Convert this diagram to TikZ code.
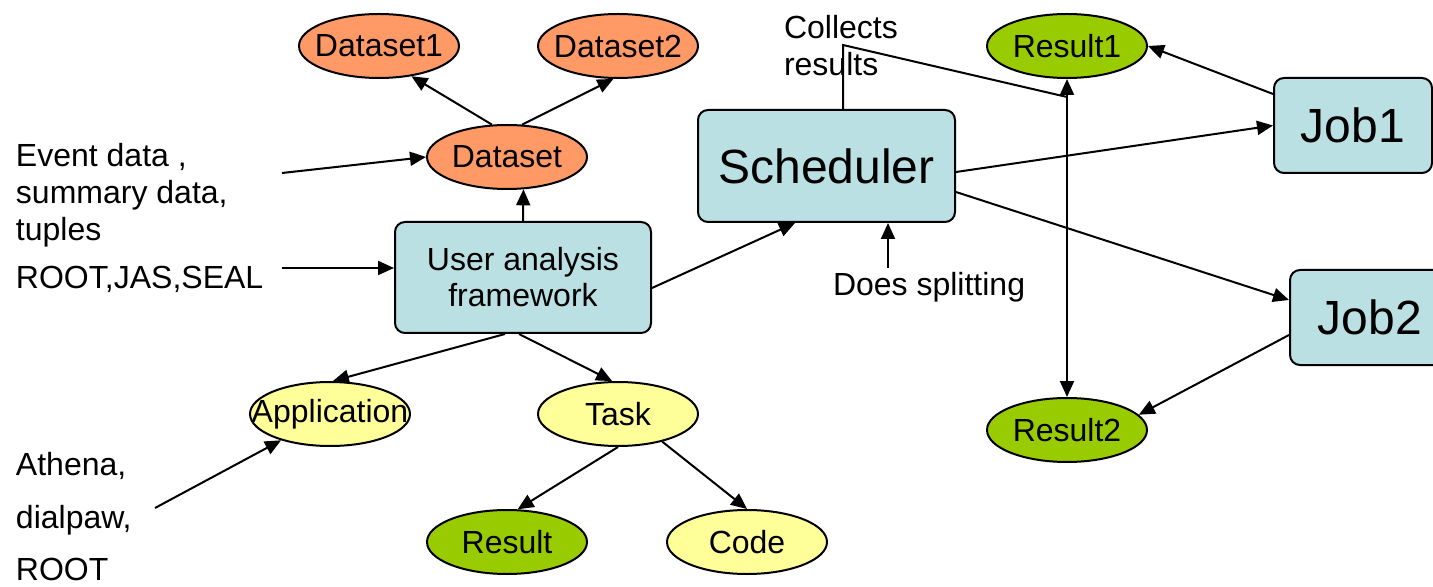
\documentclass[tikz,border=0pt]{standalone}
\usepackage{fontspec}
\setmainfont{Liberation Sans}
\usepackage{xcolor}
\usetikzlibrary{positioning}
\usetikzlibrary{shapes,arrows,calc,arrows.meta}
\definecolor{boxblue}{RGB}{187,224,227}
\definecolor{dataorange}{RGB}{255,153,102}
\definecolor{resgreen}{RGB}{153,204,0}
\definecolor{partyellow}{RGB}{255,255,153}

\begin{document}
\begin{tikzpicture}[x=0.5pt, y=-0.5pt, line width=1pt,
    >={Triangle[length=8pt, width=7pt]},
    blob/.style={draw, ellipse, inner xsep=-20pt, inner ysep=-4pt,
      minimum width=80pt, minimum height=32pt, font=\fontsize{16}{18}\selectfont},
    block/.style={draw, rectangle, rounded corners=5pt, fill=boxblue, align=center},
    txt/.style={anchor=base west, inner sep=0pt, font=\fontsize{16}{18}\selectfont}]
    \useasboundingbox (0,0) rectangle (1433,587);
    % Nodes
    \node [blob, fill=dataorange] (ds1) at (379,46) {Dataset1};
    \node [blob, fill=dataorange] (ds2) at (618,46) {Dataset2};
    \node [blob, fill=dataorange] (ds) at (507,157) {Dataset};
    \node [block, minimum width=128pt, minimum height=55.5pt,
      font=\fontsize{16}{18}\selectfont] (uaf) at (523,277.5) {User analysis\\framework};
    \node [block, minimum width=128.5pt, minimum height=56pt,
      font=\fontsize{24}{28}\selectfont] (sched) at (826.5,166) {Scheduler};
    \node [block, minimum width=79pt, minimum height=47.5pt,
      font=\fontsize{24}{28}\selectfont] (job1) at (1353,125.5) {Job1};
    \node [block, minimum width=80pt, minimum height=47.5pt,
      font=\fontsize{24}{28}\selectfont] (job2) at (1370,317.5) {Job2};
    \node [blob, fill=resgreen] (res1) at (1067,46) {Result1};
    \node [blob, fill=resgreen] (res2) at (1067,430) {Result2};
    \node [blob, fill=partyellow] (app) at (330,414) {Application};
    \node [blob, fill=partyellow] (task) at (618,414) {Task};
    \node [blob, fill=resgreen] (res) at (507,542) {Result};
    \node [blob, fill=partyellow] (code) at (747,542) {Code};
    % Labels
    \node [txt] (evt1) at (15,167) {Event data ,};
    \node [txt] (evt2) at (15,204) {summary data,};
    \node [txt] (evt3) at (15,241) {tuples};
    \node [txt] (tools) at (15,289) {ROOT,JAS,SEAL};
    \node [txt] (ath1) at (15,475) {Athena,};
    \node [txt] (ath2) at (15,528) {dialpaw,};
    \node [txt] (ath3) at (15,580) {ROOT};
    \node [txt] (coll1) at (783,39) {Collects};
    \node [txt] (coll2) at (783,76) {results};
    \node [txt] (split) at (832,296) {Does splitting};
    \coordinate (evtend) at (282,173);
    \coordinate (toolsend) at (282,268);
    \coordinate (athend) at (155,508);
    \coordinate (splitend) at (888,268);
    \coordinate (collect) at (843,45);
    \coordinate (join) at (1067,97);
    % Connectors
    \draw [->] (ds.115) -- (ds1.-43);
    \draw [->] (ds.65) -- (ds2.-98);
    \draw [->] (evtend) -- (ds.west);
    \draw [->] (toolsend) -- (toolsend -| uaf.west);
    \draw [->] (uaf.north) -- (ds.-63);
    \draw [->] ([xshift=-9pt]uaf.south) -- (app.85);
    \draw [->] ([xshift=-2pt]uaf.south) -- (task.100);
    \draw [->] (task.south) -- (res.72);
    \draw [->] (task.-32) -- (code.north);
    \draw [->] (athend) -- (app);
    \draw [->] ([yshift=-5.25pt]uaf.east) -- ([xshift=-15.75pt]sched.south);
    \draw [->] (splitend) -- (splitend |- sched.south);
    \draw [->] ([yshift=-3pt]sched.east) -- (job1.west);
    \draw [->] ([yshift=-13pt]sched.east) -- ([yshift=8.75pt]job2.west);
    \draw [->] ([yshift=15.75pt]job1.west) -- (res1.east);
    \draw [->] ([yshift=-8.75pt]job2.west) -- (res2.12);
    \draw [<->] (res1.south) -- (res2.north);
    \draw (sched.north -| collect) -- (collect) -- (join);
\end{tikzpicture}
\end{document}
